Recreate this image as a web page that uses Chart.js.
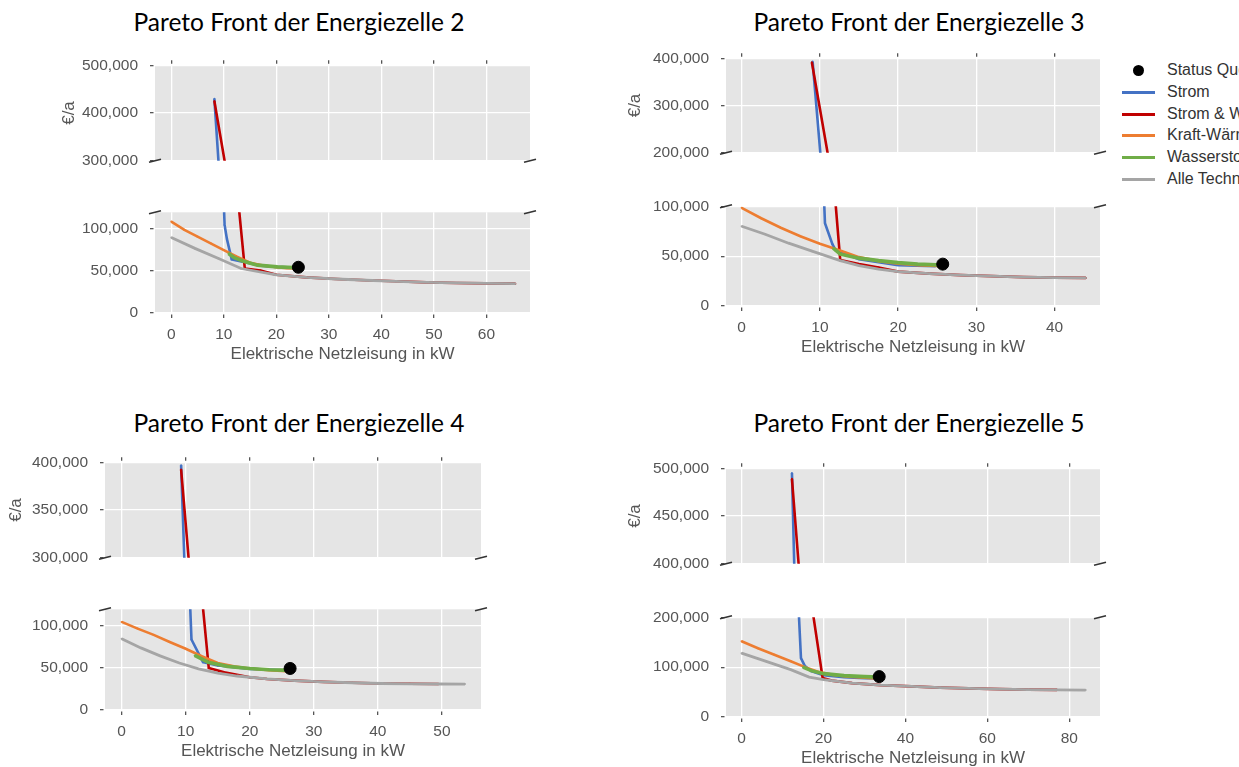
<!DOCTYPE html>
<html>
<head>
<meta charset="utf-8">
<script src="https://cdn.jsdelivr.net/npm/chart.js@4.4.1/dist/chart.umd.min.js"></script>
<style>
  body { margin: 0; width: 1239px; height: 767px; overflow: hidden; background: #fff; position: relative; }
  canvas { position: absolute; }
  .title { position: absolute; width: 500px; text-align: center; font-family: Lato, sans-serif; font-size: 24.5px; line-height: 28px; color: #000; white-space: nowrap; }
  .lg { position: absolute; height: 20px; white-space: nowrap; font-family: 'Liberation Sans', Arial, sans-serif; font-size: 16px; line-height: 20px; color: #333; }
  .lg .mk { position: absolute; }
  .lg span { position: absolute; }
</style>
</head>
<body>
<script>
// series (legend order)
var seriesNames = ['Status Quo', 'Strom', 'Strom & Wärme', 'Kraft-Wärme-Kopplung', 'Wasserstoff', 'Alle Technologien'];

// Energiezelle 2
var ez2QuoX = [24.2];
var ez2QuoY = [54500];
var ez2StromX = [8.2, 10.15, 10.6, 11.5, 14, 17, 20, 24.2];
var ez2StromY = [430000, 105000, 88000, 64000, 60500, 56500, 55000, 54000];
var ez2WaermeX = [8.2, 14.0, 17, 20, 25.7, 31.4, 37.1, 42.8, 48.6, 54.3, 60, 65.5];
var ez2WaermeY = [425000, 53000, 50500, 45500, 42500, 40500, 39000, 37800, 36500, 35800, 35300, 35000];
var ez2KwkX = [0, 2.5, 5, 7.5, 10, 12.5, 15, 17.5, 20, 22, 24.2];
var ez2KwkY = [109000, 99000, 91000, 83000, 75000, 67000, 60000, 56500, 54500, 53500, 53000];
var ez2H2X = [10.9, 12, 13.6, 16.4, 20.2, 24.2];
var ez2H2Y = [71000, 66000, 62000, 57000, 55000, 54000];
var ez2AlleX = [0, 4.5, 9, 13.3, 20, 25.7, 31.4, 37.1, 42.8, 48.6, 54.3, 60, 65.5];
var ez2AlleY = [90000, 77000, 65000, 53000, 45500, 42500, 40500, 39000, 37800, 36500, 35800, 35300, 35000];

// Energiezelle 3
var ez3QuoX = [25.7];
var ez3QuoY = [42000];
var ez3StromX = [9.07, 10.65, 11.6, 12.0, 15, 20, 24.8];
var ez3StromY = [393000, 83000, 62000, 56000, 47000, 41000, 40000];
var ez3WaermeX = [8.97, 12.6, 15, 17.5, 20, 24, 28, 32, 36, 40, 44];
var ez3WaermeY = [391500, 46000, 42000, 38500, 34500, 32500, 31000, 30000, 29000, 28500, 28200];
var ez3KwkX = [0, 2.5, 5, 7.5, 10, 12.5, 15, 17.5, 20, 22.5, 25.7];
var ez3KwkY = [98500, 88000, 78500, 70000, 62500, 56000, 49000, 45000, 42500, 41000, 40000];
var ez3H2X = [11.7, 12.6, 15, 17.5, 20, 22.5, 25.7];
var ez3H2Y = [58000, 52000, 48000, 45500, 43500, 42000, 41000];
var ez3AlleX = [0, 3, 6, 9, 12.6, 15, 17.5, 20, 24, 28, 32, 36, 40, 44];
var ez3AlleY = [80000, 72000, 63000, 55000, 45500, 40500, 37000, 34500, 32500, 31000, 30000, 29000, 28500, 28200];

// Energiezelle 4
var ez4QuoX = [26.3];
var ez4QuoY = [49500];
var ez4StromX = [9.28, 10.9, 12.7, 15, 20, 26.3];
var ez4StromY = [397000, 84000, 57000, 53000, 49000, 47000];
var ez4WaermeX = [9.28, 13.6, 16, 20, 22.7, 27, 31.5, 36, 40.5, 45, 49.5];
var ez4WaermeY = [392500, 50000, 45000, 39000, 37000, 35000, 33500, 32500, 31600, 31200, 31000];
var ez4KwkX = [0, 2.5, 5, 7.5, 10, 12.5, 15, 17.5, 20, 23, 26.3];
var ez4KwkY = [105000, 97000, 89500, 81000, 73000, 64000, 56000, 52000, 49500, 47500, 46000];
var ez4H2X = [11.4, 13.5, 16.5, 20, 23, 26.3];
var ez4H2Y = [65000, 57000, 52000, 49500, 48000, 47200];
var ez4AlleX = [0, 3, 6, 9, 12, 15, 18, 22.7, 27, 31.5, 36, 40.5, 45, 49.5, 53.6];
var ez4AlleY = [85000, 74000, 64500, 56000, 49000, 44000, 40500, 37000, 35000, 33500, 32500, 31600, 31200, 31000, 30900];

// Energiezelle 5
var ez5QuoX = [33.6];
var ez5QuoY = [81000];
var ez5StromX = [12.3, 14.5, 15.4, 17, 20, 25, 30, 33.6];
var ez5StromY = [495000, 118000, 103000, 92000, 84000, 80000, 78000, 77500];
var ez5WaermeX = [12.3, 19.8, 22, 27, 34, 41.5, 48.5, 55.5, 63, 70, 77];
var ez5WaermeY = [489000, 78000, 73000, 68000, 64000, 61500, 59000, 57500, 56000, 55000, 54500];
var ez5KwkX = [0, 4, 8, 12, 15.5, 19, 22, 26, 30, 33.6];
var ez5KwkY = [152000, 138000, 125000, 112000, 100000, 90000, 85000, 81000, 79000, 77000];
var ez5H2X = [15, 17, 20, 25, 30, 33.6];
var ez5H2Y = [100000, 93000, 87000, 83000, 81000, 80000];
var ez5AlleX = [0, 4, 8, 12, 16.5, 20, 27, 34, 41.5, 48.5, 55.5, 63, 70, 77, 84];
var ez5AlleY = [128000, 117000, 106000, 95000, 80000, 75000, 68000, 64000, 61500, 59000, 57500, 56000, 55000, 54500, 54000];

// tick labels
var ez2XTicks = [0, 10, 20, 30, 40, 50, 60];
var ez3XTicks = [0, 10, 20, 30, 40];
var ez4XTicks = [0, 10, 20, 30, 40, 50];
var ez5XTicks = [0, 20, 40, 60, 80];
var ez2TopTicks = [300000, 400000, 500000];
var ez3TopTicks = [200000, 300000, 400000];
var ez4TopTicks = [300000, 350000, 400000];
var ez5TopTicks = [400000, 450000, 500000];
var ez2BotTicks = [0, 50000, 100000];
var ez3BotTicks = [0, 50000, 100000];
var ez4BotTicks = [0, 50000, 100000];
var ez5BotTicks = [0, 100000, 200000];

var colors = ['#000000', '#4472C4', '#C00000', '#ED7D31', '#70AD47', '#A5A5A5'];
var widths = [0, 2.6, 2.6, 2.6, 3.6, 2.8];
var drawOrder = [0, 5, 4, 3, 2, 1];   // later matplotlib calls on top

// layout of the four subplots (pixels)
var cells = [
  { title: 'Pareto Front der Energiezelle 2', tx: 299, ty: 8, L: 155, R: 530, T1: 60, B1: 170, T2: 203, B2: 313, yl: 69,
    xMin: -3.1, xMax: 68.3, xTicks: ez2XTicks, top: [300000, 500000], topTicks: ez2TopTicks, botMax: 120000, botTicks: ez2BotTicks,
    series: [[ez2QuoX, ez2QuoY], [ez2StromX, ez2StromY], [ez2WaermeX, ez2WaermeY], [ez2KwkX, ez2KwkY], [ez2H2X, ez2H2Y], [ez2AlleX, ez2AlleY]] },
  { title: 'Pareto Front der Energiezelle 3', tx: 919, ty: 8, L: 726, R: 1100, T1: 53, B1: 162, T2: 197, B2: 306, yl: 635,
    xMin: -2.0, xMax: 45.8, xTicks: ez3XTicks, top: [200000, 400000], topTicks: ez3TopTicks, botMax: 100000, botTicks: ez3BotTicks,
    series: [[ez3QuoX, ez3QuoY], [ez3StromX, ez3StromY], [ez3WaermeX, ez3WaermeY], [ez3KwkX, ez3KwkY], [ez3H2X, ez3H2Y], [ez3AlleX, ez3AlleY]] },
  { title: 'Pareto Front der Energiezelle 4', tx: 299, ty: 409, L: 105, R: 481, T1: 457, B1: 567, T2: 600, B2: 710, yl: 16,
    xMin: -2.6, xMax: 56.1, xTicks: ez4XTicks, top: [300000, 400000], topTicks: ez4TopTicks, botMax: 120000, botTicks: ez4BotTicks,
    series: [[ez4QuoX, ez4QuoY], [ez4StromX, ez4StromY], [ez4WaermeX, ez4WaermeY], [ez4KwkX, ez4KwkY], [ez4H2X, ez4H2Y], [ez4AlleX, ez4AlleY]] },
  { title: 'Pareto Front der Energiezelle 5', tx: 919, ty: 409, L: 726, R: 1100, T1: 463, B1: 573, T2: 608, B2: 717, yl: 635,
    xMin: -3.8, xMax: 87.5, xTicks: ez5XTicks, top: [400000, 500000], topTicks: ez5TopTicks, botMax: 200000, botTicks: ez5BotTicks,
    series: [[ez5QuoX, ez5QuoY], [ez5StromX, ez5StromY], [ez5WaermeX, ez5WaermeY], [ez5KwkX, ez5KwkY], [ez5H2X, ez5H2Y], [ez5AlleX, ez5AlleY]] }
];

Chart.defaults.font.family = "'Liberation Sans', Arial, sans-serif";
var TL = 5;      // tick length
var GREY = '#555';
var XH = 52;     // height of the bottom x axis (ticks + labels + title)

// grey panel background
var panelBg = {
  id: 'panelBg',
  beforeDraw: function (chart) {
    var a = chart.chartArea, ctx = chart.ctx;
    ctx.save();
    ctx.fillStyle = '#E5E5E5';
    ctx.fillRect(a.left, a.top, a.right - a.left, a.bottom - a.top);
    ctx.restore();
  }
};

// the small slashes of the broken y axis
var breakMarks = {
  id: 'breakMarks',
  afterDraw: function (chart, args, opts) {
    var a = chart.chartArea, ctx = chart.ctx;
    var y = opts.edge === 'bottom' ? a.bottom : a.top;
    ctx.save();
    ctx.strokeStyle = '#333';
    ctx.lineWidth = 1.5;
    [a.left, a.right].forEach(function (x) {
      ctx.beginPath();
      ctx.moveTo(x - 6, y + 1.5);
      ctx.lineTo(x + 6, y - 1.5);
      ctx.stroke();
    });
    ctx.restore();
  }
};

function buildDatasets(series) {
  return series.map(function (s, i) {
    var pts = s[0].map(function (x, j) { return { x: x, y: s[1][j] }; });
    if (i === 0) {
      return { label: seriesNames[0], data: pts, showLine: false, pointRadius: 6, pointStyle: 'circle',
               pointBackgroundColor: '#000', pointBorderColor: '#000', order: 0, clip: 0 };
    }
    return { label: seriesNames[i], data: pts, borderColor: colors[i], backgroundColor: colors[i],
             borderWidth: widths[i], pointRadius: 1, pointBorderWidth: 0, tension: 0, order: drawOrder[i], clip: 0 };
  });
}

function makePanel(c, isTop) {
  var cL = Math.round(c.yl - 10.2);
  var padTop = isTop ? 16 - TL : 12;
  var padBottom = isTop ? 12 : 0;
  var xH = isTop ? TL : XH;
  var top = isTop ? c.T1 : c.T2;
  var bottom = isTop ? c.B1 : c.B2;

  var cv = document.createElement('canvas');
  cv.width = c.R + 16 - cL;
  cv.height = (bottom - top) + (isTop ? 16 : 12) + (isTop ? padBottom : xH);
  cv.style.left = cL + 'px';
  cv.style.top = (top - (isTop ? 16 : 12)) + 'px';
  document.body.appendChild(cv);

  var tickFont = { size: 15.5 };
  new Chart(cv, {
    type: 'line',
    data: { datasets: buildDatasets(c.series) },
    options: {
      responsive: false,
      animation: false,
      devicePixelRatio: 1,
      events: [],
      layout: { autoPadding: false, padding: { left: 0, top: padTop, right: 16, bottom: padBottom } },
      plugins: { legend: { display: false }, tooltip: { enabled: false }, breakMarks: { edge: isTop ? 'bottom' : 'top' } },
      scales: {
        x: {
          type: 'linear',
          position: isTop ? 'top' : 'bottom',
          min: c.xMin, max: c.xMax,
          afterBuildTicks: function (s) { s.ticks = c.xTicks.map(function (v) { return { value: v }; }); },
          afterFit: function (s) { s.height = xH; },
          border: { display: false },
          grid: { color: '#fff', lineWidth: 1.3, tickColor: GREY, tickWidth: 1.3, tickLength: TL,
                  tickBorderDash: isTop ? [3.5, 1.5] : [0, 1.5, 3.5, 1] },
          ticks: { display: !isTop, color: GREY, font: tickFont, padding: 7.7, maxRotation: 0 },
          title: { display: !isTop, text: 'Elektrische Netzleisung in kW', color: GREY,
                   font: { size: 17, lineHeight: 1.2 }, padding: 0 }
        },
        y: {
          min: isTop ? c.top[0] : 0,
          max: isTop ? c.top[1] : c.botMax,
          afterBuildTicks: function (s) { s.ticks = (isTop ? c.topTicks : c.botTicks).map(function (v) { return { value: v }; }); },
          afterFit: function (s) { s.width = c.L - cL; },
          border: { display: false },
          grid: { color: '#fff', lineWidth: 1.3, tickColor: GREY, tickWidth: 1.3, tickLength: TL, tickBorderDash: [3.5, 1.5] },
          ticks: { color: GREY, font: tickFont, padding: 12,
                   callback: function (v) { return Number(v).toLocaleString('en-US'); } },
          title: { display: isTop, text: '€/a', color: GREY, font: { size: 17, lineHeight: 1.2 }, padding: 0 }
        }
      }
    },
    plugins: [panelBg, breakMarks]
  });
}

cells.forEach(function (c) {
  var t = document.createElement('div');
  t.className = 'title';
  t.textContent = c.title;
  t.style.left = (c.tx - 250) + 'px';
  t.style.top = c.ty + 'px';
  document.body.appendChild(t);
  makePanel(c, true);
  makePanel(c, false);
});

// legend, cut by the right border of the picture
seriesNames.forEach(function (name, i) {
  var row = document.createElement('div');
  row.className = 'lg';
  row.style.left = '1122px';
  row.style.top = Math.round(70 + 21.8 * i - 10) + 'px';
  var mk = document.createElement('div');
  mk.className = 'mk';
  if (i === 0) {
    mk.style.cssText = 'left:11px;top:5px;width:11px;height:11px;border-radius:50%;background:#000';
  } else {
    mk.style.cssText = 'left:0;top:9px;width:33px;height:3px;background:' + colors[i];
  }
  row.appendChild(mk);
  var sp = document.createElement('span');
  sp.style.left = '45px';
  sp.style.top = '0';
  sp.textContent = name;
  row.appendChild(sp);
  document.body.appendChild(row);
});
</script>
</body>
</html>
